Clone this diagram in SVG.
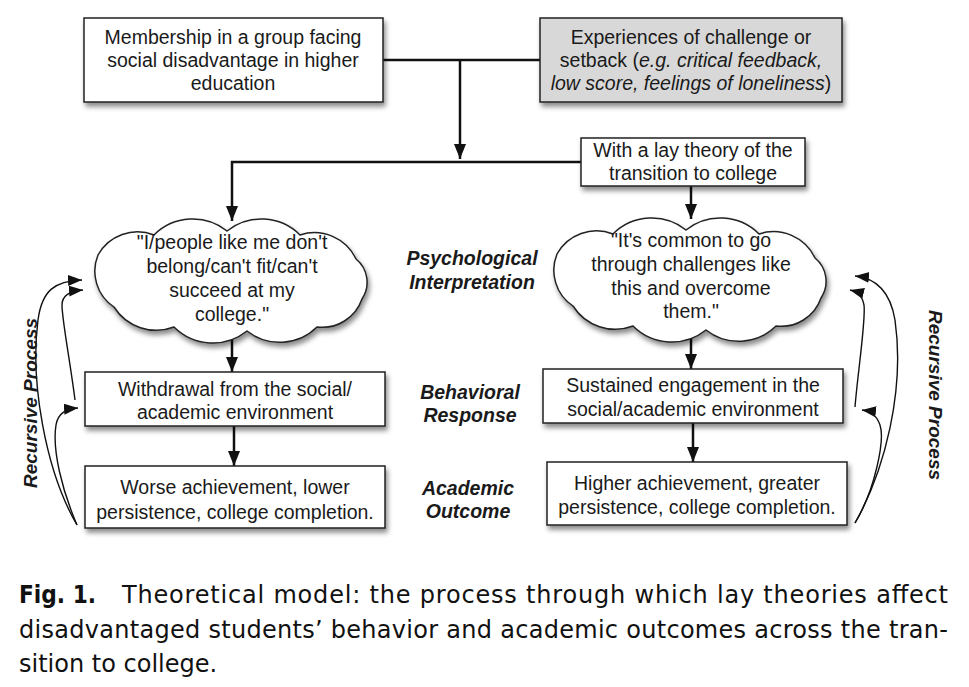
<svg xmlns="http://www.w3.org/2000/svg" width="969" height="687" viewBox="0 0 969 687">
<defs>
<filter id="sh" x="-10%" y="-10%" width="125%" height="140%">
<feDropShadow dx="2" dy="4" stdDeviation="2.5" flood-color="#000" flood-opacity="0.45"/>
</filter>
<marker id="ah" markerUnits="userSpaceOnUse" markerWidth="16" markerHeight="12" refX="15" refY="6" orient="auto">
<path d="M0,0 L15,6 L0,12 z" fill="#111"/>
</marker>
<marker id="ahs" markerUnits="userSpaceOnUse" markerWidth="16" markerHeight="12" refX="14" refY="5.5" orient="auto">
<path d="M0,0 L14,5.5 L0,11 z" fill="#111"/>
</marker>
<path id="cloud" d="M-134,-26 A45,45 0 0 1 -78,-46 A55,55 0 0 1 -5,-50 A55,55 0 0 1 68,-46 A46,46 0 0 1 124,-22 A30,30 0 0 1 130,18 A42,42 0 0 1 85,46 A53,53 0 0 1 15,50 A55,55 0 0 1 -58,46 A50,50 0 0 1 -118,26 A43,43 0 0 1 -134,-26 z"/>
</defs>
<style>
.box{fill:#fff;stroke:#222;stroke-width:1.5;filter:url(#sh)}
.gbox{fill:#d8d8d8;stroke:#222;stroke-width:1.5;filter:url(#sh)}
.cl{fill:#fff;stroke:#222;stroke-width:1.5;filter:url(#sh)}
.t{font-family:"Liberation Sans",Arial,sans-serif;font-size:19.5px;fill:#1a1a1a;text-anchor:middle}
.lab{font-family:"Liberation Sans",Arial,sans-serif;font-size:19.5px;font-weight:bold;font-style:italic;fill:#1a1a1a;text-anchor:middle}
.rec{font-family:"Liberation Sans",Arial,sans-serif;font-size:19px;font-weight:bold;font-style:italic;fill:#1a1a1a;text-anchor:middle}
.cap{font-family:"DejaVu Sans","Noto Sans",sans-serif;font-size:24px;fill:#111}
.ln{fill:none;stroke:#111;stroke-width:2.5}
.cv{fill:none;stroke:#111;stroke-width:1.4}
</style>
<rect width="969" height="687" fill="#fff"/>

<g id="connectors">
<line class="ln" x1="383" y1="60" x2="540" y2="60"/>
<line class="ln" x1="460" y1="60" x2="460" y2="159" marker-end="url(#ah)"/>
<polyline class="ln" points="581,162 232,162 232,221" marker-end="url(#ah)"/>
<line class="ln" x1="691" y1="186" x2="691" y2="219" marker-end="url(#ah)"/>
<line class="ln" x1="232" y1="340" x2="232" y2="372" marker-end="url(#ah)"/>
<line class="ln" x1="234" y1="426" x2="234" y2="466" marker-end="url(#ah)"/>
<line class="ln" x1="691" y1="338" x2="691" y2="369" marker-end="url(#ah)"/>
<line class="ln" x1="693" y1="423" x2="693" y2="462" marker-end="url(#ah)"/>
<path class="cv" d="M77,525 C45,470 30,380 38,320 C42,290 55,281 82,280" marker-end="url(#ahs)"/>
<path class="cv" d="M75,400 C70,360 62,320 62,305 C62,295 70,291 83,290" marker-end="url(#ahs)"/>
<path class="cv" d="M77,525 C62,490 52,450 56,425 C58,413 66,409 78,408" marker-end="url(#ahs)"/>
<path class="cv" d="M855,523 C885,470 905,390 895,320 C890,290 875,278 855,276" marker-end="url(#ahs)"/>
<path class="cv" d="M855,407 C858,370 866,320 864,305 C862,295 858,292 850,290" marker-end="url(#ahs)"/>
<path class="cv" d="M855,523 C875,490 885,440 880,425 C876,414 870,411 862,410" marker-end="url(#ahs)"/>
</g>

<g id="n-membership">
<rect class="box" x="84" y="18" width="299" height="84"/>
<text class="t" x="233" y="44">Membership in a group facing</text>
<text class="t" x="233" y="67">social disadvantage in higher</text>
<text class="t" x="233" y="90">education</text>
</g>

<g id="n-experiences">
<rect class="gbox" x="540" y="18" width="302" height="84"/>
<text class="t" x="691" y="44">Experiences of challenge or</text>
<text class="t" x="691" y="67">setback (<tspan font-style="italic">e.g. critical feedback,</tspan></text>
<text class="t" x="691" y="90"><tspan font-style="italic">low score, feelings of loneliness</tspan>)</text>
</g>

<g id="n-laytheory">
<rect class="box" x="581" y="138" width="224" height="48"/>
<text class="t" x="693" y="157">With a lay theory of the</text>
<text class="t" x="693" y="180">transition to college</text>
</g>

<g id="n-cloud-left">
<use href="#cloud" class="cl" x="232" y="281"/>
<text class="t" x="232" y="249">"I/people like me don't</text>
<text class="t" x="232" y="273">belong/can't fit/can't</text>
<text class="t" x="232" y="297">succeed at my</text>
<text class="t" x="232" y="321">college."</text>
</g>

<g id="n-cloud-right">
<use href="#cloud" class="cl" x="691" y="280"/>
<text class="t" x="691" y="247">"It's common to go</text>
<text class="t" x="691" y="271">through challenges like</text>
<text class="t" x="691" y="295">this and overcome</text>
<text class="t" x="691" y="318">them."</text>
</g>

<g id="n-withdrawal">
<rect class="box" x="85" y="372" width="300" height="54"/>
<text class="t" x="235" y="396">Withdrawal from the social/</text>
<text class="t" x="235" y="419">academic environment</text>
</g>

<g id="n-worse">
<rect class="box" x="85" y="466" width="300" height="62"/>
<text class="t" x="235" y="494">Worse achievement, lower</text>
<text class="t" x="235" y="519">persistence, college completion.</text>
</g>

<g id="n-sustained">
<rect class="box" x="543" y="369" width="300" height="54"/>
<text class="t" x="693" y="392">Sustained engagement in the</text>
<text class="t" x="693" y="416">social/academic environment</text>
</g>

<g id="n-higher">
<rect class="box" x="547" y="462" width="300" height="63"/>
<text class="t" x="697" y="490">Higher achievement, greater</text>
<text class="t" x="697" y="514">persistence, college completion.</text>
</g>

<g id="labels">
<text class="lab" x="472" y="265">Psychological</text>
<text class="lab" x="472" y="289">Interpretation</text>
<text class="lab" x="470" y="399">Behavioral</text>
<text class="lab" x="470" y="422">Response</text>
<text class="lab" x="468" y="495">Academic</text>
<text class="lab" x="468" y="518">Outcome</text>
<text class="rec" transform="translate(37,403) rotate(-90)">Recursive Process</text>
<text class="rec" transform="translate(929,395) rotate(90)">Recursive Process</text>
</g>

<g id="caption">
<text class="cap" x="19" y="603" font-weight="bold" textLength="77" lengthAdjust="spacingAndGlyphs">Fig. 1.</text>
<text class="cap" x="122" y="603" textLength="826" lengthAdjust="spacing">Theoretical model: the process through which lay theories affect</text>
<text class="cap" x="19" y="638" textLength="929" lengthAdjust="spacing">disadvantaged students’ behavior and academic outcomes across the tran-</text>
<text class="cap" x="19" y="672">sition to college.</text>
</g>
</svg>
